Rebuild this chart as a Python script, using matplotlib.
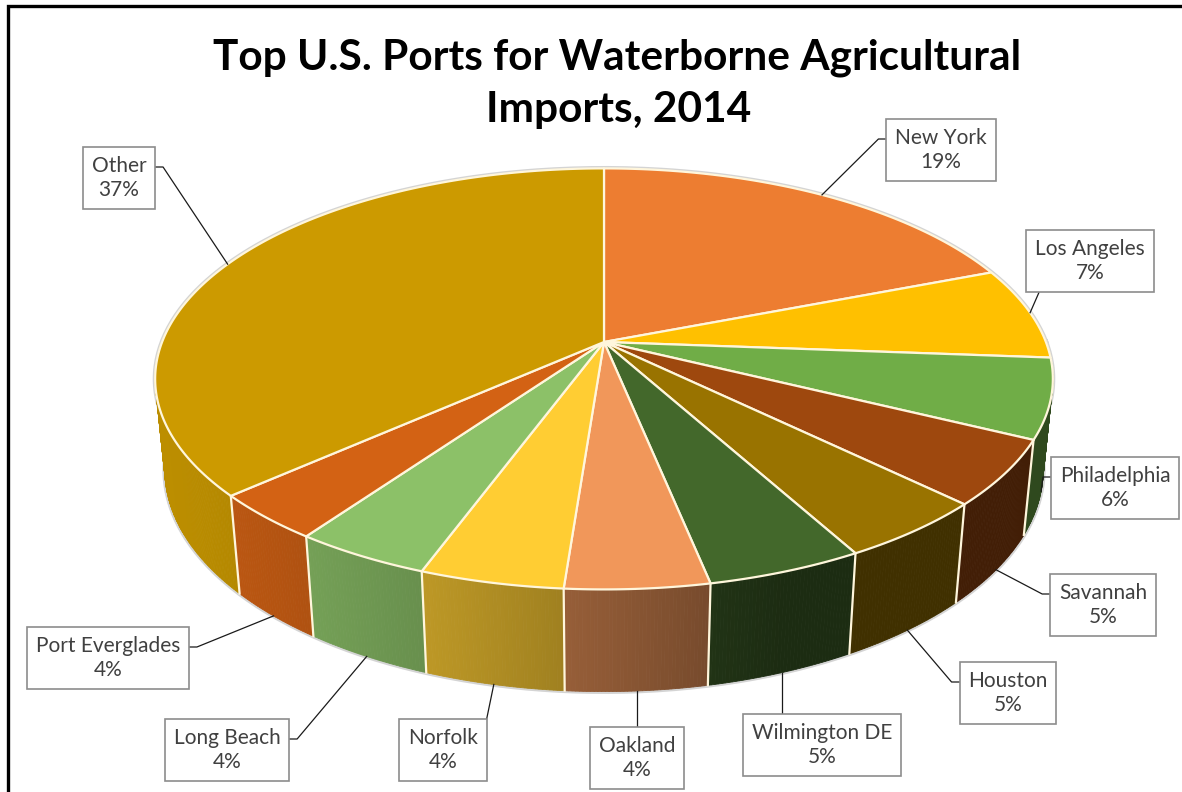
import numpy as np
import matplotlib
matplotlib.use('Agg')
import matplotlib.pyplot as plt
from matplotlib.patches import Polygon
from matplotlib.colors import to_rgb

plt.rcParams['font.family'] = ['Lato', 'DejaVu Sans']

# data (shares in %)
ports = ['New York', 'Los Angeles', 'Philadelphia', 'Savannah', 'Houston',
         'Wilmington DE', 'Oakland', 'Norfolk', 'Long Beach', 'Port Everglades', 'Other']
shares = [19.1, 7.1, 6.1, 5.0, 4.7, 4.8, 4.4, 4.4, 4.2, 3.6, 36.6]
colors = ['#ED7D31', '#FFC000', '#70AD47', '#9E480E', '#997300', '#43682B',
          '#F1975A', '#FFCD33', '#8CC168', '#D36214', '#CC9A00']

# label box centres (px) and where the leader meets the box
label_xy = {
    'New York': (941, 150), 'Los Angeles': (1090, 261), 'Philadelphia': (1115, 488),
    'Savannah': (1103, 605), 'Houston': (1008, 693), 'Wilmington DE': (822, 745),
    'Oakland': (637, 758), 'Norfolk': (443, 750), 'Long Beach': (227, 750),
    'Port Everglades': (108, 658), 'Other': (119, 178),
}
label_side = {
    'New York': 'left', 'Los Angeles': 'bottom', 'Philadelphia': 'left',
    'Savannah': 'left', 'Houston': 'left', 'Wilmington DE': 'top',
    'Oakland': 'top', 'Norfolk': 'top', 'Long Beach': 'right',
    'Port Everglades': 'right', 'Other': 'right',
}

# simple perspective camera for the 3D pie
EL = np.radians(27.5)
DIST = 5.06
FOC = 2236
THICK = 0.234
CX, CY = 604, 342
VIS = -1.0 / (DIST * np.cos(EL))   # sin(theta) below this -> wall faces camera


def proj(theta, z=0.0):
    x = np.cos(theta)
    d = np.sin(theta)
    depth = d * np.cos(EL) - z * np.sin(EL) + DIST
    up = d * np.sin(EL) + z * np.cos(EL)
    return CX + FOC * x / depth, CY - FOC * up / depth


def shade(theta):
    return 0.42 + 0.5 * max(0.0, np.cos(theta - np.radians(200)))


fig = plt.figure(figsize=(11.82, 7.92), dpi=100)
ax = fig.add_axes([0, 0, 1, 1])
ax.set_xlim(0, 1182)
ax.set_ylim(792, 0)
ax.axis('off')

total = sum(shares)
cum = np.concatenate([[0], np.cumsum(shares)]) / total
starts = np.pi / 2 - 2 * np.pi * cum[:-1]
ends = np.pi / 2 - 2 * np.pi * cum[1:]
mids = (starts + ends) / 2

edge = '#FFF6DC'

# soft outline under the pie
tt = np.linspace(0, 2 * np.pi, 400)
gx, gy = proj(tt)
ax.plot(gx, gy, color='#D4D4D4', lw=3.5, zorder=1)
tb = np.linspace(np.pi, 2 * np.pi, 200)
bx, by = proj(tb, -THICK)
ax.plot(bx, by, color='#D4D4D4', lw=3.5, zorder=1)

# side walls, far pieces first
quads = []
for t0, t1, col in zip(starts, ends, colors):
    n = max(2, int(abs(t1 - t0) / np.radians(0.4)))
    th = np.linspace(t0, t1, n + 1)
    rgb = np.array(to_rgb(col))
    for a, b in zip(th[:-1], th[1:]):
        m = (a + b) / 2
        if np.sin(m) > 0.03:
            continue
        xa, ya = proj(a)
        xb, yb = proj(b)
        xc, yc = proj(b, -THICK)
        xd, yd = proj(a, -THICK)
        c = np.clip(rgb * shade(m % (2 * np.pi)), 0, 1)
        quads.append((np.sin(m), [(xa, ya), (xb, yb), (xc, yc), (xd, yd)], c))
quads.sort(key=lambda q: -q[0])
for _, pts, c in quads:
    ax.add_patch(Polygon(pts, closed=True, fc=c, ec=c, lw=0.6, zorder=2))

# slice borders on the walls
for b in starts:
    if np.sin(b) < VIS:
        x0, y0 = proj(b)
        x1, y1 = proj(b, -THICK)
        ax.plot([x0, x1], [y0, y1], color=edge, lw=1.6, zorder=3)

# top faces
for t0, t1, col in zip(starts, ends, colors):
    n = max(4, int(abs(t1 - t0) / np.radians(0.5)))
    th = np.linspace(t0, t1, n + 1)
    xs, ys = proj(th)
    pts = [(CX, CY)] + list(zip(xs, ys))
    ax.add_patch(Polygon(pts, closed=True, fc=col, ec=edge, lw=1.6,
                         joinstyle='round', zorder=4))

# title
ax.text(617, 58, 'Top U.S. Ports for Waterborne Agricultural', ha='center', va='center',
        fontsize=30.5, fontweight='bold', color='black')
ax.text(619, 110, 'Imports, 2014', ha='center', va='center',
        fontsize=30.5, fontweight='bold', color='black')

# data labels
texts = {}
for name, v in zip(ports, shares):
    x, y = label_xy[name]
    texts[name] = ax.text(x, y, f'{name}\n{round(v):.0f}%', ha='center', va='center',
                          fontsize=15, color='#404040', linespacing=1.3, zorder=6,
                          bbox=dict(boxstyle='square,pad=0.42', fc='white',
                                    ec='#8C8C8C', lw=1.2))

fig.canvas.draw()
inv = ax.transData.inverted()
for name, m in zip(ports, mids):
    if np.sin(m) < VIS:
        rx, ry = proj(m, -THICK)
    else:
        rx, ry = proj(m)
    bb = texts[name].get_bbox_patch().get_window_extent()
    (x0, y1), (x1, y0) = inv.transform([(bb.x0, bb.y0), (bb.x1, bb.y1)])
    yc = (y0 + y1) / 2 - 11
    side = label_side[name]
    if side == 'left':
        path = [(x0, yc), (x0 - 8, yc), (rx, ry)]
    elif side == 'right':
        path = [(x1, yc), (x1 + 8, yc), (rx, ry)]
    elif side == 'top':
        path = [(rx, ry), (min(max(rx, x0), x1), y0)]
    else:
        path = [(rx, ry), (x0 + 0.1 * (x1 - x0), y1)]
    px, py = zip(*path)
    ax.plot(px, py, color='#1A1A1A', lw=0.9, zorder=5)

# chart frame: only its top and left edges fall inside the picture
ax.plot([8, 8, 1182], [792, 6, 6], color='black', lw=2.4, zorder=7,
        solid_joinstyle='miter')

fig.savefig('out.png', dpi=100)
